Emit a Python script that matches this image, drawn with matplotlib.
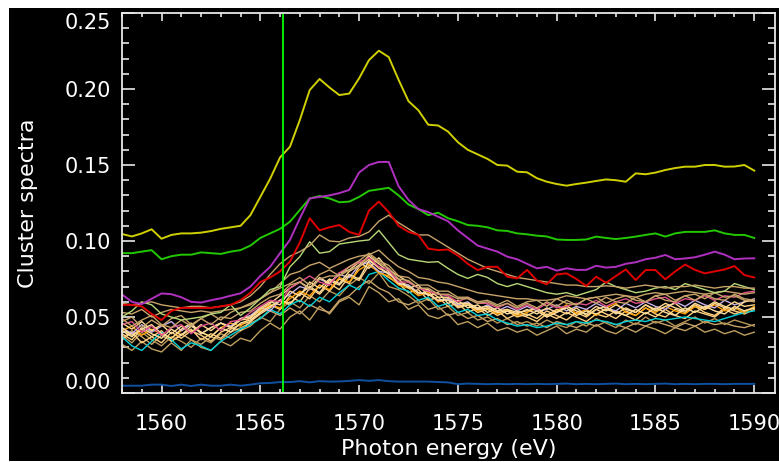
import numpy as np
import matplotlib
matplotlib.use("Agg")
import matplotlib.pyplot as plt
from matplotlib.patches import Rectangle

# ---------------- data ----------------
energy_start = 1558.0
energy_step = 0.5
marker_energy = 1566.15

yellow = [0.1046,0.103,0.105,0.1077,0.1015,0.104,0.105,0.105,0.1055,0.1065,0.108,0.109,0.110,
          0.117,0.129,0.141,0.155,0.162,0.1796,0.1993,0.2066,0.2010,0.196,0.197,0.207,0.219,0.2252,0.221,0.206,
          0.192,0.186,0.1765,0.176,0.172,0.165,0.160,0.157,0.154,0.150,0.1496,0.1456,
          0.1452,0.1413,0.139,0.1375,0.1364,0.1375,0.1384,0.1395,0.1405,0.140,0.139,0.1445,0.1439,0.145,
          0.1467,0.148,0.1489,0.1489,0.150,0.150,0.1489,0.149,0.150,0.1463]
green = [0.092,0.092,0.093,0.094,0.088,0.090,0.091,0.091,0.0925,0.092,0.0915,0.093,0.094,
         0.097,0.102,0.105,0.108,0.1127,0.1204,0.128,0.1296,0.128,0.1255,0.1259,0.129,0.133,0.134,0.135,0.130,
         0.124,0.121,0.117,0.1186,0.115,0.113,0.1105,0.110,0.109,0.107,0.1066,0.105,
         0.1044,0.1035,0.103,0.101,0.1007,0.1007,0.101,0.1029,0.102,0.1013,0.102,0.1029,0.104,0.105,
         0.1029,0.105,0.106,0.106,0.106,0.107,0.105,0.104,0.104,0.102]
magenta = [0.0648,0.060,0.0585,0.062,0.0655,0.065,0.063,0.060,0.0595,0.061,0.0623,0.064,0.0656,
           0.070,0.077,0.083,0.092,0.1007,0.1149,0.128,0.129,0.130,0.1315,0.1336,0.145,0.150,0.152,0.152,0.136,
           0.127,0.121,0.119,0.116,0.113,0.107,0.102,0.097,0.095,0.093,0.0897,0.088,
           0.085,0.082,0.083,0.0805,0.082,0.081,0.081,0.0837,0.0825,0.083,0.085,0.086,0.088,0.089,
           0.0908,0.088,0.0885,0.0893,0.091,0.093,0.091,0.088,0.0885,0.0886]
red = [0.058,0.058,0.057,0.052,0.048,0.054,0.056,0.056,0.056,0.056,0.057,0.058,0.061,
       0.066,0.073,0.076,0.080,0.0864,0.099,0.115,0.107,0.109,0.1105,0.106,0.104,0.120,0.1259,0.119,0.110,
       0.106,0.104,0.095,0.094,0.0944,0.0905,0.085,0.0809,0.083,0.083,0.0765,0.0754,
       0.081,0.074,0.0715,0.078,0.0787,0.075,0.0704,0.0765,0.0725,0.077,0.0813,0.0743,0.0809,0.0809,
       0.0748,0.080,0.0845,0.081,0.0787,0.080,0.0813,0.0835,0.0776,0.076]
blue = [0.0048,0.0048,0.0048,0.0055,0.0055,0.0046,0.0055,0.0046,0.0055,0.0048,0.0048,0.0055,0.0048,
        0.0055,0.0064,0.0066,0.0072,0.0072,0.0078,0.0070,0.0078,0.0075,0.0076,0.0080,0.0085,0.0080,0.0085,0.0078,0.0075,
        0.0075,0.0075,0.0075,0.0072,0.0070,0.0058,0.0062,0.0060,0.0058,0.0060,0.0058,0.0060,
        0.0058,0.0060,0.0058,0.0060,0.0062,0.0058,0.0060,0.0058,0.0060,0.0062,0.0058,0.0060,0.0058,0.0060,
        0.0062,0.0058,0.0060,0.0058,0.0060,0.0060,0.0058,0.0060,0.0060,0.0060]

bundle_1 = [0.059,0.058,0.059,0.060,0.058,0.057,0.056,0.057,0.057,0.056,0.057,0.058,0.060,
            0.064,0.070,0.078,0.085,0.090,0.093,0.097,0.104,0.100,0.0995,0.102,0.103,0.106,0.113,0.117,0.112,
            0.108,0.104,0.104,0.100,0.096,0.092,0.088,0.085,0.082,0.080,0.078,0.076,
            0.075,0.074,0.073,0.072,0.071,0.071,0.070,0.070,0.0705,0.070,0.069,0.070,0.071,0.070,0.069,0.070,0.070,0.071,0.070,0.069,0.070,0.070,0.069,0.069]
bundle_2 = [0.050,0.054,0.060,0.058,0.052,0.050,0.048,0.049,0.050,0.052,0.053,0.058,0.051,
            0.056,0.062,0.068,0.070,0.083,0.0897,0.0995,0.092,0.093,0.098,0.099,0.100,0.1007,0.107,0.099,0.091,
            0.088,0.087,0.086,0.0864,0.082,0.078,0.0754,0.078,0.076,0.072,0.070,0.072,
            0.070,0.068,0.066,0.065,0.066,0.064,0.066,0.068,0.073,0.070,0.068,0.066,0.067,0.069,0.070,0.068,0.072,0.070,0.068,0.066,0.067,0.072,0.070,0.068]
bundle_3 = [0.053,0.052,0.055,0.050,0.053,0.055,0.054,0.053,0.054,0.053,0.054,0.055,0.056,
            0.058,0.062,0.066,0.072,0.078,0.080,0.084,0.086,0.082,0.085,0.088,0.090,0.091,0.094,0.088,0.083,
            0.080,0.076,0.075,0.073,0.072,0.070,0.068,0.066,0.065,0.064,0.063,0.062,
            0.062,0.061,0.061,0.062,0.064,0.063,0.062,0.063,0.064,0.065,0.064,0.063,0.065,0.066,0.065,0.066,0.067,0.066,0.065,0.066,0.067,0.066,0.065,0.066]
bundle_4 = [0.046,0.042,0.047,0.041,0.045,0.039,0.044,0.040,0.045,0.041,0.046,0.043,0.048,
            0.049,0.055,0.059,0.064,0.069,0.073,0.069,0.076,0.072,0.079,0.081,0.086,0.082,0.089,0.081,0.077,
            0.073,0.069,0.068,0.063,0.063,0.059,0.059,0.056,0.057,0.054,0.055,0.053,
            0.054,0.056,0.051,0.055,0.052,0.056,0.051,0.055,0.057,0.052,0.056,0.053,0.058,0.054,0.057,0.059,0.054,0.058,0.055,0.059,0.056,0.060,0.057,0.058]
bundle_cyan = [0.037,0.031,0.028,0.034,0.040,0.035,0.029,0.033,0.031,0.028,0.034,0.038,0.042,
               0.045,0.049,0.055,0.052,0.058,0.061,0.057,0.063,0.060,0.066,0.071,0.068,0.078,0.080,0.074,0.069,
               0.067,0.061,0.063,0.057,0.059,0.053,0.055,0.051,0.052,0.048,0.046,0.044,
               0.045,0.043,0.044,0.046,0.045,0.047,0.046,0.048,0.047,0.045,0.047,0.048,0.047,0.049,0.048,0.049,0.050,0.049,0.048,0.047,0.049,0.051,0.053,0.054]
bundle_pink = [0.045,0.047,0.040,0.044,0.038,0.043,0.045,0.039,0.044,0.046,0.041,0.047,0.048,
               0.053,0.057,0.061,0.060,0.069,0.073,0.077,0.073,0.071,0.079,0.083,0.086,0.089,0.083,0.081,0.073,
               0.073,0.069,0.067,0.065,0.064,0.060,0.063,0.059,0.059,0.056,0.059,0.055,
               0.058,0.055,0.059,0.056,0.057,0.059,0.058,0.061,0.057,0.060,0.062,0.059,0.060,0.062,0.063,0.059,0.062,0.061,0.064,0.061,0.064,0.063,0.066,0.067]
bundle_orange = [0.041,0.044,0.038,0.042,0.039,0.036,0.041,0.045,0.040,0.037,0.043,0.046,0.044,
                 0.050,0.054,0.058,0.056,0.062,0.067,0.064,0.071,0.068,0.076,0.073,0.081,0.085,0.079,0.077,0.071,
                 0.069,0.064,0.066,0.060,0.062,0.057,0.059,0.054,0.056,0.052,0.055,0.051,
                 0.053,0.056,0.050,0.054,0.058,0.052,0.055,0.051,0.056,0.059,0.053,0.051,0.056,0.053,0.057,0.054,0.052,0.057,0.055,0.058,0.054,0.056,0.053,0.057]
bundle_lavender = [0.043,0.039,0.045,0.040,0.044,0.047,0.041,0.045,0.039,0.043,0.046,0.044,0.049,
                   0.051,0.056,0.054,0.061,0.065,0.070,0.068,0.075,0.072,0.078,0.076,0.084,0.086,0.080,0.079,0.072,
                   0.071,0.066,0.065,0.061,0.062,0.058,0.060,0.055,0.058,0.054,0.057,0.054,
                   0.057,0.054,0.055,0.058,0.054,0.057,0.055,0.059,0.056,0.054,0.059,0.056,0.060,0.057,0.055,0.060,0.057,0.061,0.058,0.056,0.061,0.058,0.060,0.062]
bundle_9 = [0.032,0.028,0.034,0.029,0.027,0.033,0.028,0.035,0.030,0.028,0.034,0.031,0.036,
            0.034,0.041,0.046,0.042,0.050,0.054,0.048,0.057,0.052,0.060,0.063,0.058,0.070,0.066,0.060,0.062,
            0.055,0.058,0.051,0.049,0.052,0.045,0.047,0.043,0.046,0.041,0.043,0.040,
            0.042,0.038,0.041,0.044,0.039,0.042,0.040,0.045,0.041,0.039,0.043,0.040,0.044,0.042,0.039,0.043,0.041,0.044,0.040,0.042,0.039,0.041,0.038,0.040]
bundle_10 = [0.039,0.035,0.042,0.037,0.033,0.040,0.036,0.041,0.038,0.034,0.040,0.043,0.041,
             0.047,0.052,0.056,0.061,0.058,0.066,0.062,0.071,0.067,0.075,0.072,0.083,0.088,0.082,0.079,0.073,
             0.071,0.065,0.067,0.060,0.062,0.056,0.058,0.053,0.055,0.051,0.054,0.050,
             0.052,0.049,0.054,0.051,0.048,0.053,0.050,0.055,0.052,0.049,0.054,0.051,0.056,0.052,0.050,0.055,0.053,0.057,0.053,0.051,0.056,0.054,0.052,0.055]
bundle_11 = [0.049,0.044,0.048,0.051,0.045,0.043,0.048,0.044,0.049,0.045,0.050,0.049,0.053,
             0.054,0.059,0.063,0.065,0.071,0.073,0.068,0.075,0.077,0.077,0.081,0.083,0.091,0.086,0.082,0.075,
             0.074,0.069,0.069,0.065,0.065,0.062,0.062,0.059,0.060,0.057,0.059,0.056,
             0.059,0.056,0.060,0.057,0.061,0.058,0.062,0.059,0.063,0.060,0.059,0.063,0.060,0.064,0.061,0.060,0.064,0.061,0.065,0.062,0.061,0.065,0.062,0.061]
bundle_12 = [0.035,0.040,0.033,0.037,0.041,0.034,0.038,0.042,0.035,0.039,0.036,0.042,0.045,
             0.047,0.053,0.058,0.055,0.064,0.060,0.069,0.065,0.072,0.068,0.077,0.074,0.084,0.080,0.076,0.072,
             0.066,0.068,0.061,0.063,0.057,0.059,0.053,0.056,0.051,0.054,0.049,0.052,
             0.050,0.047,0.052,0.049,0.053,0.050,0.047,0.052,0.050,0.054,0.051,0.048,0.053,0.050,0.055,0.051,0.049,0.054,0.052,0.050,0.055,0.052,0.054,0.056]
bundle_13 = [0.038,0.033,0.040,0.035,0.031,0.037,0.034,0.030,0.036,0.033,0.039,0.036,0.041,
             0.044,0.050,0.047,0.055,0.060,0.056,0.064,0.060,0.067,0.064,0.071,0.076,0.072,0.079,0.070,0.068,
             0.064,0.059,0.062,0.055,0.057,0.051,0.053,0.048,0.050,0.046,0.049,0.045,
             0.047,0.044,0.048,0.045,0.043,0.047,0.044,0.049,0.046,0.043,0.048,0.045,0.050,0.046,0.048,0.044,0.047,0.050,0.046,0.049,0.045,0.048,0.046,0.044]
bundle_14 = [0.043,0.038,0.042,0.045,0.039,0.036,0.042,0.046,0.039,0.043,0.046,0.043,0.049,
             0.050,0.056,0.060,0.058,0.067,0.064,0.073,0.069,0.075,0.072,0.080,0.084,0.090,0.085,0.080,0.072,
             0.070,0.066,0.065,0.061,0.061,0.057,0.058,0.055,0.056,0.053,0.054,0.052,
             0.055,0.052,0.056,0.053,0.057,0.054,0.052,0.057,0.054,0.058,0.055,0.053,0.058,0.055,0.059,0.056,0.054,0.059,0.056,0.060,0.057,0.055,0.060,0.061]
bundle_15 = [0.047,0.050,0.043,0.048,0.044,0.049,0.051,0.045,0.049,0.052,0.048,0.053,0.056,
             0.059,0.062,0.066,0.069,0.072,0.076,0.071,0.078,0.081,0.077,0.083,0.087,0.092,0.087,0.084,0.077,
             0.076,0.071,0.071,0.067,0.067,0.063,0.063,0.060,0.061,0.058,0.061,0.057,
             0.060,0.061,0.057,0.062,0.059,0.058,0.062,0.063,0.059,0.062,0.064,0.061,0.060,0.064,0.065,0.061,0.064,0.065,0.062,0.066,0.063,0.064,0.061,0.060]
bundle_16 = [0.036,0.041,0.037,0.032,0.038,0.034,0.039,0.035,0.032,0.037,0.035,0.040,0.043,
             0.046,0.049,0.054,0.051,0.056,0.052,0.058,0.055,0.053,0.061,0.064,0.070,0.074,0.069,0.066,0.060,
             0.058,0.061,0.055,0.057,0.051,0.053,0.049,0.051,0.047,0.049,0.045,0.047,
             0.044,0.046,0.043,0.047,0.045,0.043,0.046,0.044,0.047,0.045,0.043,0.046,0.044,0.047,0.045,0.043,0.046,0.044,0.047,0.045,0.046,0.044,0.043,0.045]
bundle_17 = [0.041,0.037,0.043,0.039,0.036,0.042,0.038,0.044,0.040,0.037,0.043,0.040,0.046,
             0.048,0.053,0.057,0.061,0.059,0.065,0.070,0.066,0.074,0.071,0.078,0.075,0.087,0.083,0.078,0.075,
             0.069,0.071,0.064,0.066,0.059,0.061,0.056,0.058,0.053,0.056,0.052,0.054,
             0.051,0.054,0.050,0.053,0.056,0.051,0.054,0.052,0.055,0.053,0.051,0.055,0.052,0.056,0.053,0.051,0.056,0.053,0.057,0.054,0.052,0.057,0.054,0.056]

bundle_series = [
    (bundle_9, '#c0a060'), (bundle_16, '#c8a46a'), (bundle_13, '#b89858'),
    (bundle_12, '#ffd080'), (bundle_10, '#ffd080'), (bundle_cyan, '#00d0d8'),
    (bundle_orange, '#ffa000'), (bundle_lavender, '#c8b0e8'), (bundle_17, '#ffe0a0'),
    (bundle_14, '#ffdc98'), (bundle_4, '#ffd890'), (bundle_pink, '#e0508c'),
    (bundle_11, '#c8a46a'), (bundle_15, '#c8a46a'), (bundle_3, '#c8a46a'),
    (bundle_2, '#b8d878'), (bundle_1, '#c8a46a'),
]
main_series = [
    (red, '#e00000'), (green, '#22c800'), (magenta, '#b030c0'),
    (yellow, '#d0d000'), (blue, '#1050a0'),
]

x_ticks = [1560, 1565, 1570, 1575, 1580, 1585, 1590]
y_ticks = [0.00, 0.05, 0.10, 0.15, 0.20, 0.25]
x_label = "Photon energy (eV)"
y_label = "Cluster spectra"


def energies(values):
    return energy_start + energy_step * np.arange(len(values))


# ---------------- figure ----------------
W, H = 779, 462
fig = plt.figure(figsize=(W / 100, H / 100), dpi=100, facecolor='white')
fig.patches.append(Rectangle((9 / W, 1 / H), 1 - 9 / W, (H - 9) / H,
                             transform=fig.transFigure, facecolor='black',
                             edgecolor='none', zorder=-10))

ax = fig.add_axes([122 / W, (H - 393) / H, (775 - 122) / W, (393 - 13) / H])
ax.set_facecolor('black')

for vals, col in bundle_series:
    ax.plot(energies(vals), vals, color=col, lw=1.0)
for vals, col in main_series:
    ax.plot(energies(vals), vals, color=col, lw=1.4)

ax.axvline(marker_energy, color='#00ff00', lw=1.3)

ax.set_xlim(1558.0, 1591.05)
ax.set_ylim(0.0, 0.25)

fg = '#e8e8e8'
for s in ax.spines.values():
    s.set_color(fg)
    s.set_linewidth(1.3)

ax.set_xticks(x_ticks)
ax.set_xticklabels([str(t) for t in x_ticks])
ax.set_yticks(y_ticks)
ax.set_yticklabels([f"{t:.2f}" for t in y_ticks])
ax.set_xticks(np.arange(1558, 1591, 1), minor=True)
ax.set_yticks(np.arange(0, 0.2501, 0.01), minor=True)

ax.tick_params(axis='both', which='both', direction='in', colors=fg,
               top=True, right=True, width=1.2)
ax.tick_params(axis='x', which='major', length=6, pad=15, labelsize=15, labelcolor='white')
ax.tick_params(axis='x', which='minor', length=3)
ax.tick_params(axis='y', which='major', length=9.5, pad=8, labelsize=15, labelcolor='white')
ax.tick_params(axis='y', which='minor', length=5)

yt = ax.yaxis.get_major_ticks()
yt[0].label1.set_va('bottom')
yt[-1].label1.set_va('top')

ax.set_xlabel(x_label, color='white', fontsize=16)
ax.set_ylabel(y_label, color='white', fontsize=16)
ax.xaxis.set_label_coords(0.5, -0.12)
ax.yaxis.set_label_coords(-0.128, 0.5)

fig.savefig('out.png', dpi=100, facecolor='white')
